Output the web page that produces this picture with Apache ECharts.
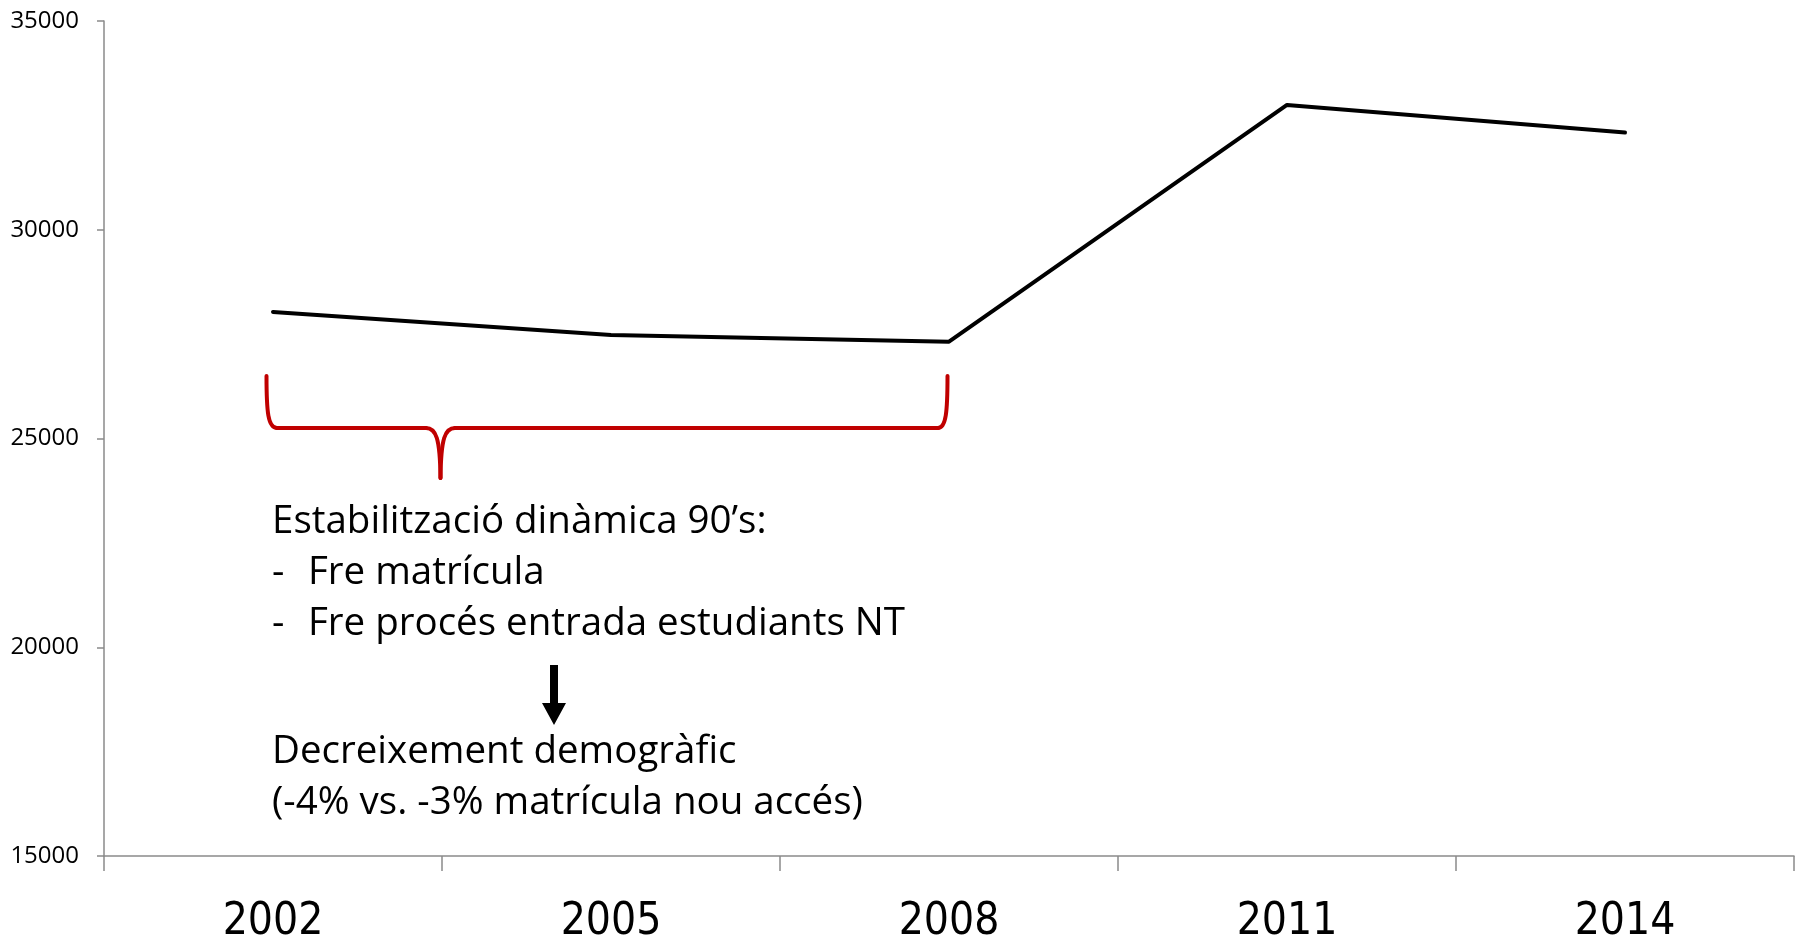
<!DOCTYPE html>
<html>
<head>
<meta charset="utf-8">
<script src="https://cdn.jsdelivr.net/npm/echarts@6/dist/echarts.min.js"></script>
<style>
  html, body { margin: 0; padding: 0; background: #fff; }
  #chart { width: 1803px; height: 941px; }
</style>
</head>
<body>
<div id="chart"></div>
<script>
// dades
const years = ['2002', '2005', '2008', '2011', '2014'];
const matricula = [28030, 27480, 27320, 32990, 32330];
const yMin = 15000;
const yMax = 35000;
const yStep = 5000;

const noteTitle = 'Estabilització dinàmica 90’s:';
const noteBullets = ['Fre matrícula', 'Fre procés entrada estudiants NT'];
const noteResult = ['Decreixement demogràfic', '(-4% vs. -3% matrícula nou accés)'];

const chart = echarts.init(document.getElementById('chart'));

const axisGray = '#8a8a8a';
const textFont = '"Open Sans", Lato, sans-serif';
const noteSize = 38.5;
const braceStyle = { stroke: '#c00000', lineWidth: 4, fill: null, lineCap: 'round', lineJoin: 'round' };

function noteText(x, y, text) {
  return {
    type: 'text', x: x, y: y, silent: true,
    style: { text: text, fill: '#000', fontSize: noteSize, fontFamily: textFont, verticalAlign: 'middle' }
  };
}

function braceCurve(p) {
  return {
    type: 'bezierCurve', silent: true,
    shape: { x1: p[0], y1: p[1], cpx1: p[2], cpy1: p[3], cpx2: p[4], cpy2: p[5], x2: p[6], y2: p[7] },
    style: braceStyle
  };
}

function braceLine(x1, y1, x2, y2) {
  return { type: 'line', silent: true, shape: { x1: x1, y1: y1, x2: x2, y2: y2 }, style: braceStyle };
}

const graphics = [
  // clau vermella
  braceCurve([266.5, 376, 266.5, 412, 268, 428, 277, 428]),
  braceLine(277, 428, 426, 428),
  braceCurve([426, 428, 436, 428, 440, 438, 440.5, 478]),
  braceCurve([440.5, 478, 441, 438, 445, 428, 455, 428]),
  braceLine(455, 428, 938, 428),
  braceCurve([938, 428, 946, 428, 947.5, 412, 947.5, 376]),
  {
    // fletxa
    type: 'polygon', silent: true,
    shape: { points: [[550, 665], [558, 665], [558, 703], [566, 703], [554, 725], [542, 703], [550, 703]] },
    style: { fill: '#000' }
  },
  noteText(272, 522, noteTitle),
  noteText(272, 573, '-'),
  noteText(308, 573, noteBullets[0]),
  noteText(272, 624, '-'),
  noteText(308, 624, noteBullets[1]),
  noteText(272, 752, noteResult[0]),
  noteText(272, 803, noteResult[1])
];

const option = {
  animation: false,
  backgroundColor: '#fff',
  grid: { left: 104, right: 9, top: 21, bottom: 85, containLabel: false, outerBoundsMode: 'none' },
  xAxis: {
    type: 'category',
    data: years,
    boundaryGap: true,
    axisLine: { lineStyle: { color: axisGray, width: 1.5 } },
    axisTick: { show: true, length: 15, lineStyle: { color: axisGray, width: 1.5 } },
    axisLabel: {
      color: '#000', fontSize: 44, margin: 45,
      fontFamily: '"Liberation Sans Narrow", "DejaVu Sans Condensed", "Roboto Condensed", "Arial Narrow", sans-serif'
    },
    splitLine: { show: false }
  },
  yAxis: {
    type: 'value',
    min: yMin, max: yMax, interval: yStep,
    axisLine: { show: true, lineStyle: { color: axisGray, width: 1.5 } },
    axisTick: { show: true, length: 7, lineStyle: { color: axisGray, width: 1.5 } },
    axisLabel: {
      color: '#000', fontSize: 24, margin: 25, fontFamily: textFont,
      formatter: (v) => String(v)
    },
    splitLine: { show: false }
  },
  series: [
    {
      type: 'line',
      data: matricula,
      symbol: 'none',
      silent: true,
      lineStyle: { color: '#000', width: 4, cap: 'round', join: 'round' }
    }
  ],
  graphic: graphics
};

chart.setOption(option);
</script>
</body>
</html>
